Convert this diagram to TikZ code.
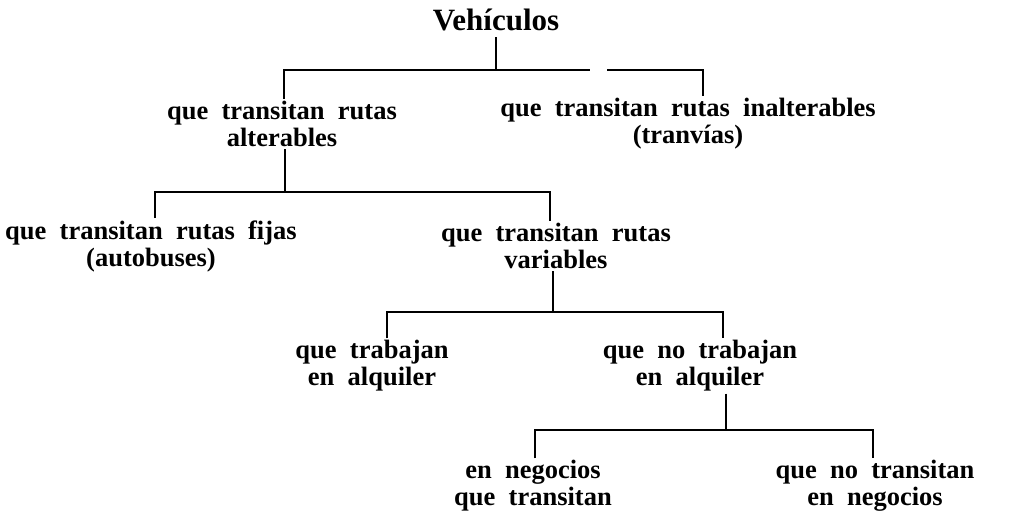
\documentclass[tikz,border=0pt]{standalone}
\usepackage{fontspec}
\setmainfont{Liberation Serif}
\newcommand\lblfont{\fontsize{26.5}{27}\selectfont\bfseries\spaceskip=0.5em plus 0.1em\relax}
\newcommand\ttlfont{\fontsize{31}{32}\selectfont\bfseries}
\begin{document}
\begin{tikzpicture}[x=1pt,y=-1pt,
  lbl/.style={inner xsep=0pt,inner ysep=2pt,align=center,font=\lblfont},
  ttl/.style={inner xsep=0pt,inner ysep=6pt,align=center,font=\ttlfont},
  conn/.style={line width=2.4pt,line cap=butt}]
\useasboundingbox (0,0) rectangle (1019,520);
% nodes
\node[ttl] (v) at (496,20) {Vehículos};
\node[lbl] (a1) at (282,124) {que transitan rutas\\alterables};
\node[lbl] (a2) at (688,124) {que transitan rutas inalterables\\(tranvías)};
\node[lbl] (b1) at (151,246) {que transitan rutas fijas\\(autobuses)};
\node[lbl] (b2) at (556,246) {que transitan rutas\\variables};
\node[lbl] (c1) at (372,366) {que trabajan\\en alquiler};
\node[lbl] (c2) at (700,366) {que no trabajan\\en alquiler};
\node[lbl] (d1) at (533,486) {en negocios\\que transitan};
\node[lbl] (d2) at (875,486) {que no transitan\\en negocios};
% bar coordinates
\coordinate (b0l) at (284,70);
\coordinate (b0g) at (590,70);
\coordinate (b0h) at (607,70);
\coordinate (b0r) at (703,70);
\coordinate (b1l) at (155,192);
\coordinate (b1r) at (550,192);
\coordinate (b2l) at (387,312);
\coordinate (b2r) at (723,312);
\coordinate (b3l) at (535,430);
\coordinate (b3r) at (873,430);
% level 0
\draw[conn] (v.south) -- (v.south |- b0l);
\draw[conn] (b0l |- a1.north) -- (b0l) -- (b0g);
\draw[conn] (b0h) -- (b0r) -- (b0r |- a2.north);
% level 1
\draw[conn] ([xshift=3pt]a1.south) -- ([xshift=3pt]a1.south |- b1l);
\draw[conn] (b1l |- b1.north) -- (b1l) -- (b1r) -- (b1r |- b2.north);
% level 2
\draw[conn] ([xshift=-3pt]b2.south) -- ([xshift=-3pt]b2.south |- b2l);
\draw[conn] (b2l |- c1.north) -- (b2l) -- (b2r) -- (b2r |- c2.north);
% level 3
\draw[conn] ([xshift=26pt]c2.south) -- ([xshift=26pt]c2.south |- b3l);
\draw[conn] (b3l |- d1.north) -- (b3l) -- (b3r) -- (b3r |- d2.north);
\end{tikzpicture}
\end{document}
